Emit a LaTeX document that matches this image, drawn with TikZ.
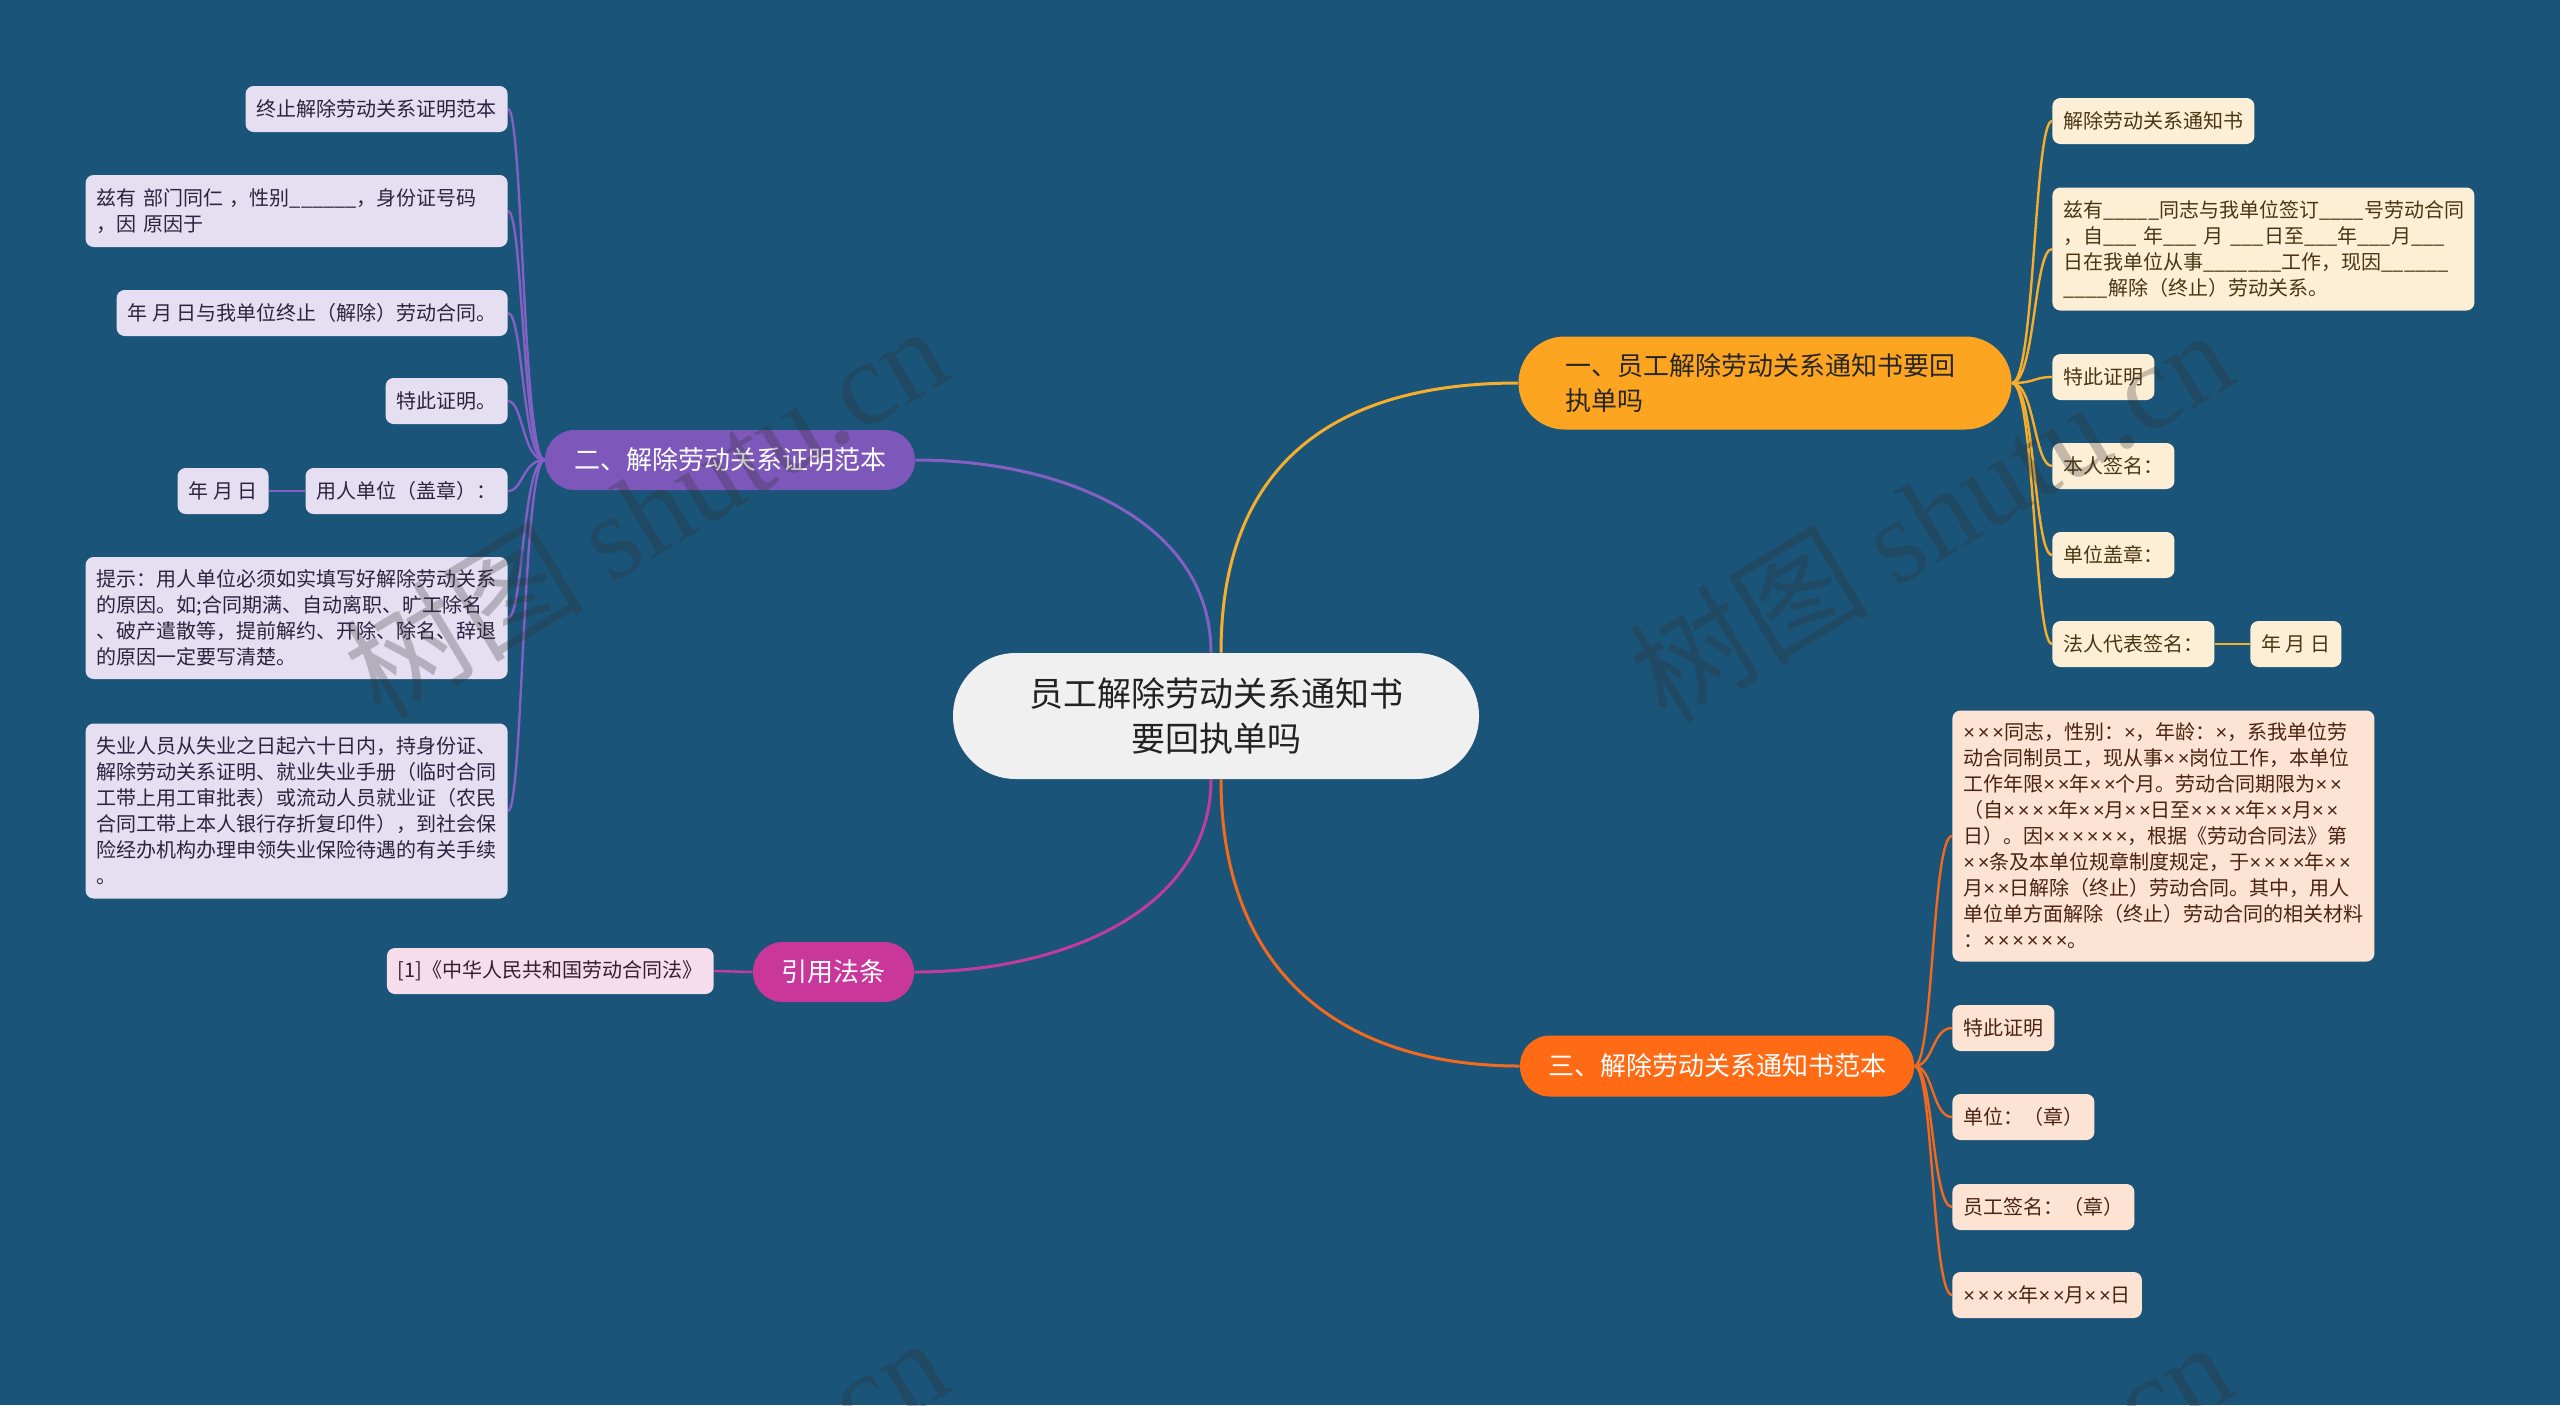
\documentclass[tikz,border=0pt]{standalone}
\usepackage{fontspec}
\setmainfont{Noto Sans CJK SC}
\newfontfamily\wmlatin{Liberation Serif}
\newfontfamily\narrowlat[LetterSpace=14]{Liberation Sans}
\newcommand\tms[1]{{\narrowlat #1}}
\usetikzlibrary{backgrounds}
\definecolor{bgc}{HTML}{1A5478}
\definecolor{cenfill}{HTML}{F0F0F0}
\definecolor{centext}{HTML}{222222}
\definecolor{yelc}{HTML}{FDA521}
\definecolor{yelline}{HTML}{F7AE2C}
\definecolor{yelleaf}{HTML}{FDEED6}
\definecolor{yeltext}{HTML}{4A3613}
\definecolor{purc}{HTML}{7D57B9}
\definecolor{purline}{HTML}{8560C4}
\definecolor{purleaf}{HTML}{E5DFF1}
\definecolor{purtext}{HTML}{2B2340}
\definecolor{orac}{HTML}{FF6A14}
\definecolor{oraline}{HTML}{F26A1E}
\definecolor{oraleaf}{HTML}{FDE3D4}
\definecolor{oratext}{HTML}{4A2410}
\definecolor{magc}{HTML}{C9379B}
\definecolor{magline}{HTML}{C23C9E}
\definecolor{magleaf}{HTML}{F5DDEC}
\definecolor{magtext}{HTML}{3A1B30}
\definecolor{wmc}{HTML}{333333}
\begin{document}
\begin{tikzpicture}[x=0.5pt,y=-0.5pt,
  every node/.style={inner sep=0pt},
  leaf/.style={rectangle, rounded corners=4pt, inner xsep=5.5pt, inner ysep=0pt, minimum height=23pt, font=\fontsize{10}{13}\selectfont, align=left},
  pleaf/.style={leaf, fill=purleaf, text=purtext, anchor=east},
  yleaf/.style={leaf, fill=yelleaf, text=yeltext, anchor=west},
  oleaf/.style={leaf, fill=oraleaf, text=oratext, anchor=west},
  mleaf/.style={leaf, fill=magleaf, text=magtext, anchor=east},
  branch/.style={rectangle, font=\fontsize{13}{17.5}\selectfont, minimum height=30pt, rounded corners=14.9pt},
  conn/.style={line width=1.5pt},
  sub/.style={line width=1.2pt},
  wm/.style={text=wmc, opacity=0.28, font=\fontsize{60}{66}\selectfont, rotate=31}
]
\useasboundingbox (0,0) rectangle (2560,1405);

% central
\node[rectangle, rounded corners=31.4pt, fill=cenfill, text=centext, minimum width=263pt, minimum height=63pt, align=center, font=\fontsize{17}{22.5}\selectfont] (c) at (1216,716) {员工解除劳动关系通知书\\要回执单吗};

% branches
\node[branch, fill=yelc, text=black!85, minimum width=246.5pt, minimum height=46.5pt, rounded corners=23.1pt, text width=199.5pt, align=left] (b1) at (1765,383) {一、员工解除劳动关系通知书要回\\执单吗};
\node[branch, fill=purc, text=white, minimum width=185pt] (b2) at (730,460) {二、解除劳动关系证明范本};
\node[branch, fill=orac, text=white, minimum width=197pt, minimum height=30.5pt] (b3) at (1717,1066) {三、解除劳动关系通知书范本};
\node[branch, fill=magc, text=white, minimum width=80.5pt] (b4) at (833.5,972) {引用法条};

% purple leaves
\node[pleaf] (l1) at (508,109) {终止解除劳动关系证明范本};
\node[pleaf, text width=200pt, minimum height=36pt] (l2) at (508,211) {兹有~部门同仁~，性别\_\_\_\_\_\_，身份证号码\\，因~原因于};
\node[pleaf] (l3) at (508,313) {年 月 日与我单位终止（解除）劳动合同。};
\node[pleaf] (l4) at (508,401) {特此证明。};
\node[pleaf] (l5) at (508,491) {用人单位（盖章）：};
\node[pleaf] (l5a) at (269,491) {年 月 日};
\node[pleaf, text width=200pt, minimum height=61pt] (l6) at (508,618) {提示：用人单位必须如实填写好解除劳动关系\\的原因。如;合同期满、自动离职、旷工除名\\、破产遣散等，提前解约、开除、除名、辞退\\的原因一定要写清楚。};
\node[pleaf, text width=200pt, minimum height=87.5pt] (l7) at (508,811) {失业人员从失业之日起六十日内，持身份证、\\解除劳动关系证明、就业失业手册（临时合同\\工带上用工审批表）或流动人员就业证（农民\\合同工带上本人银行存折复印件），到社会保\\险经办机构办理申领失业保险待遇的有关手续\\。};

% magenta leaf
\node[mleaf] (m1) at (714,971) {[1]《中华人民共和国劳动合同法》};

% yellow leaves
\node[yleaf] (r1) at (2052,121) {解除劳动关系通知书};
\node[yleaf, text width=200pt, minimum height=61.5pt] (r2) at (2052,249) {兹有\_\_\_\_\_同志与我单位签订\_\_\_\_号劳动合同\\，自\_\_\_~年\_\_\_~月~\_\_\_日至\_\_\_年\_\_\_月\_\_\_\\日在我单位从事\_\_\_\_\_\_\_工作，现因\_\_\_\_\_\_\\\_\_\_\_解除（终止）劳动关系。};
\node[yleaf] (r3) at (2052,377) {特此证明};
\node[yleaf] (r4) at (2052,466) {本人签名：};
\node[yleaf] (r5) at (2052,555) {单位盖章：};
\node[yleaf] (r6) at (2052,644) {法人代表签名：};
\node[yleaf] (r7) at (2250,644) {年 月 日};

% orange leaves
\node[oleaf, text width=200pt, minimum height=125.5pt] (s1) at (1952,836) {\tms{×××}同志，性别：\tms{×}，年龄：\tms{×}，系我单位劳\\动合同制员工，现从事\tms{××}岗位工作，本单位\\工作年限\tms{××}年\tms{××}个月。劳动合同期限为\tms{××}\\（自\tms{××××}年\tms{××}月\tms{××}日至\tms{××××}年\tms{××}月\tms{××}\\日）。因\tms{××××××}，根据《劳动合同法》第\\\tms{××}条及本单位规章制度规定，于\tms{××××}年\tms{××}\\月\tms{××}日解除（终止）劳动合同。其中，用人\\单位单方面解除（终止）劳动合同的相关材料\\：\tms{××××××}。};
\node[oleaf] (s2) at (1952,1028) {特此证明};
\node[oleaf] (s3) at (1952,1117) {单位：（章）};
\node[oleaf] (s4) at (1952,1207) {员工签名：（章）};
\node[oleaf] (s5) at (1952,1295) {\tms{××××}年\tms{××}月\tms{××}日};

\begin{scope}[on background layer]
\fill[bgc] (0,0) rectangle (2560,1405);
\draw[conn, yelline] ([xshift=2.5pt]c.north) .. controls +(0,-200) and +(-170,0) .. (b1.west);
\draw[conn, purline] ([xshift=-2.5pt]c.north) .. controls +(0,-130) and +(150,0) .. (b2.east);
\draw[conn, magline] ([xshift=-2.5pt]c.south) .. controls +(0,130) and +(150,0) .. (b4.east);
\draw[conn, oraline] ([xshift=2.5pt]c.south) .. controls +(0,200) and +(-170,0) .. (b3.west);
\foreach \n in {r1,r2,r3,r4,r5,r6}
  \draw[sub, yelline] (b1.east) .. controls +(23,0) and +(-18,0) .. (\n.west);
\draw[sub, yelline] (r6.east) -- (r7.west);
\foreach \n in {s1,s2,s3,s4,s5}
  \draw[sub, oraline] (b3.east) .. controls +(19,0) and +(-20,0) .. (\n.west);
\foreach \n in {l1,l2,l3,l4,l5,l6,l7}
  \draw[sub, purline] (b2.west) .. controls +(-22,0) and +(15,0) .. (\n.east);
\draw[sub, purline] (l5.west) -- (l5a.east);
\draw[sub, magline] (b4.west) -- (m1.east);
\end{scope}

% watermarks
\begin{scope}
\clip (0,0) rectangle (2560,1405);
\node[wm] (w1) at (645,510) {树图 {\wmlatin shutu.cn}};
\node[wm] (w2) at (1930,514) {树图 {\wmlatin shutu.cn}};
\node[wm] (w3) at (645,1522) {树图 {\wmlatin shutu.cn}};
\node[wm] (w4) at (1930,1526) {树图 {\wmlatin shutu.cn}};
\end{scope}
\end{tikzpicture}
\end{document}
